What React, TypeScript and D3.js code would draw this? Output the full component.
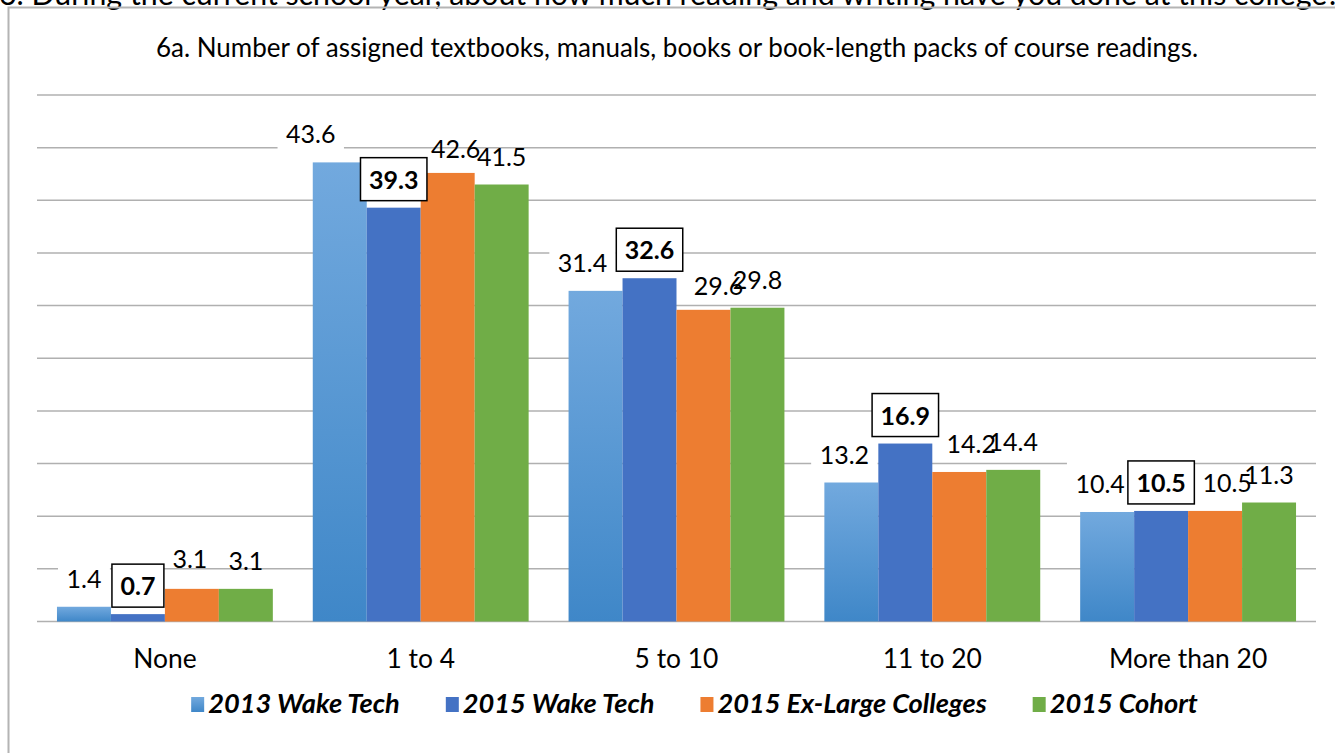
import React, { useEffect, useRef } from "react";
import * as d3 from "d3";

const categories = ["None", "1 to 4", "5 to 10", "11 to 20", "More than 20"];
const seriesNames = ["2013 Wake Tech", "2015 Wake Tech", "2015 Ex-Large Colleges", "2015 Cohort"];
const wakeTech2013 = [1.4, 43.6, 31.4, 13.2, 10.4];
const wakeTech2015 = [0.7, 39.3, 32.6, 16.9, 10.5];
const exLarge2015 = [3.1, 42.6, 29.6, 14.2, 10.5];
const cohort2015 = [3.1, 41.5, 29.8, 14.4, 11.3];
const yTicks = [0, 5, 10, 15, 20, 25, 30, 35, 40, 45, 50];

const questionText =
  "6. During the current school year, about how much reading and writing have you done at this college?";
const titleText =
  "6a. Number of assigned textbooks, manuals, books or book-length packs of course readings.";

const seriesValues = [wakeTech2013, wakeTech2015, exLarge2015, cohort2015];
const seriesColors = ["url(#grad2013)", "#4472C4", "#ED7D31", "#70AD47"];
// manual label nudges (style), per series per category
const labelDx = [
  [0, -29, -13, -7, -7],
  [0, 0, 0, 0, 0],
  [-2, 8, 15, 12, 12],
  [0, 0, 0, 0, 0],
];
const labelDy = [
  [0, 0, 0, 0, 0],
  [0, 0, 0, 0, 0],
  [-2, 4, 4, 0, 0],
  [0, 0, 0, 0, 0],
];

export default function App() {
  const ref = useRef<SVGSVGElement>(null);

  useEffect(() => {
    const W = 1335;
    const H = 753;
    const font = "Lato, 'Open Sans', sans-serif";
    const svg = d3.select(ref.current as SVGSVGElement);
    svg.selectAll("*").remove();

    const defs = svg.append("defs");
    const grad = defs
      .append("linearGradient")
      .attr("id", "grad2013")
      .attr("x1", 0)
      .attr("y1", 0)
      .attr("x2", 0)
      .attr("y2", 1);
    grad.append("stop").attr("offset", "0%").attr("stop-color", "#72a9de");
    grad.append("stop").attr("offset", "100%").attr("stop-color", "#3f87c8");

    svg.append("rect").attr("width", W).attr("height", H).attr("fill", "#fff");

    // cut-off question text above the chart
    svg
      .append("text")
      .attr("x", -1)
      .attr("y", 5)
      .attr("font-family", font)
      .attr("font-size", 30.3)
      .attr("fill", "#000")
      .text(questionText);

    // chart frame
    svg
      .append("path")
      .attr("d", `M8.5,${H} V7.5 H${W}`)
      .attr("fill", "none")
      .attr("stroke", "#b4b4b4")
      .attr("stroke-width", 2);

    // title
    svg
      .append("text")
      .attr("x", 677)
      .attr("y", 57)
      .attr("text-anchor", "middle")
      .attr("font-family", font)
      .attr("font-size", 26)
      .attr("fill", "#000")
      .text(titleText);

    const x0 = d3.scaleBand<string>().domain(categories).range([37, 1316]).padding(0);
    const x1 = d3
      .scaleBand<string>()
      .domain(seriesNames)
      .range([0, x0.bandwidth()])
      .paddingInner(0)
      .paddingOuter(0.37);
    const y = d3.scaleLinear().domain([0, 50]).range([621.5, 95]);

    // gridlines
    svg
      .append("g")
      .selectAll("line")
      .data(yTicks)
      .join("line")
      .attr("x1", 37)
      .attr("x2", 1316)
      .attr("y1", (d) => y(d))
      .attr("y2", (d) => y(d))
      .attr("stroke", "#b0b0b0")
      .attr("stroke-width", 1.5);

    // bars
    seriesNames.forEach((s, si) => {
      svg
        .append("g")
        .selectAll("rect")
        .data(seriesValues[si])
        .join("rect")
        .attr("x", (_d, ci) => (x0(categories[ci]) as number) + (x1(s) as number))
        .attr("width", x1.bandwidth())
        .attr("y", (d) => y(d))
        .attr("height", (d) => y(0) - y(d))
        .attr("fill", seriesColors[si]);
    });

    // labels
    seriesNames.forEach((s, si) => {
      const g = svg.append("g");
      seriesValues[si].forEach((v, ci) => {
        const cx = (x0(categories[ci]) as number) + (x1(s) as number) + x1.bandwidth() / 2 + labelDx[si][ci];
        const base = y(v) - 19 + labelDy[si][ci];
        const bold = si === 1;
        const hasBox = si === 0 || si === 1;
        const rect = hasBox ? g.append("rect") : null;
        const t = g
          .append("text")
          .attr("x", cx)
          .attr("y", base)
          .attr("text-anchor", "middle")
          .attr("font-family", font)
          .attr("font-size", 25)
          .attr("font-weight", bold ? "bold" : "normal")
          .attr("fill", "#000")
          .text(v.toFixed(1));
        if (rect) {
          const tw = (t.node() as SVGTextElement).getComputedTextLength();
          const w = tw + 17;
          rect
            .attr("x", cx - w / 2)
            .attr("y", base - 31)
            .attr("width", w)
            .attr("height", 43)
            .attr("fill", "#fff")
            .attr("stroke", si === 1 ? "#000" : "none")
            .attr("stroke-width", 1.5);
        }
      });
    });

    // category labels
    svg
      .append("g")
      .selectAll("text")
      .data(categories)
      .join("text")
      .attr("x", (d) => (x0(d) as number) + x0.bandwidth() / 2)
      .attr("y", 668)
      .attr("text-anchor", "middle")
      .attr("font-family", font)
      .attr("font-size", 26.4)
      .attr("fill", "#000")
      .text((d) => d);

    // legend
    const lg = svg.append("g");
    const items = seriesNames.map((s, si) => {
      const g = lg.append("g");
      g.append("rect")
        .attr("x", 0)
        .attr("y", 697)
        .attr("width", 13)
        .attr("height", 15)
        .attr("fill", seriesColors[si]);
      const t = g
        .append("text")
        .attr("x", 17)
        .attr("y", 713)
        .attr("font-family", font)
        .attr("font-size", 27.2)
        .attr("font-weight", "bold")
        .attr("font-style", "italic")
        .attr("fill", "#000")
        .text(s);
      const tw = (t.node() as SVGTextElement).getComputedTextLength();
      return { g, w: 17 + tw };
    });
    const gap = 46;
    const total = d3.sum(items, (d) => d.w) + gap * (items.length - 1);
    let cur = 694.5 - total / 2;
    items.forEach((it) => {
      it.g.attr("transform", `translate(${cur},0)`);
      cur += it.w + gap;
    });
  }, []);

  return (
    <svg
      ref={ref}
      width={1335}
      height={753}
      style={{ position: "absolute", left: 0, top: 0, display: "block" }}
    />
  );
}
